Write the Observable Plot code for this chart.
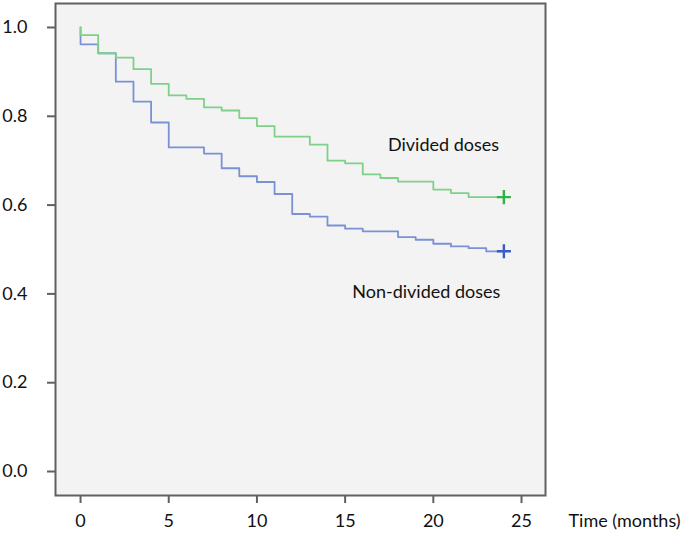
<!DOCTYPE html>
<html>
<head>
<meta charset="utf-8">
<script src="https://cdn.jsdelivr.net/npm/d3@7"></script>
<script src="https://cdn.jsdelivr.net/npm/@observablehq/plot@0.6"></script>
<style>
  html, body { margin: 0; padding: 0; background: #ffffff; }
  #chart svg { display: block; }
</style>
</head>
<body>
<div id="chart"></div>
<script>
// Kaplan–Meier step curves (time in months, survival proportion)
const dividedTime = [0, 0, 1, 2, 3, 4, 5, 6, 7, 8, 9, 10, 11, 13, 14, 15, 16, 17, 18, 20, 21, 22, 24];
const dividedSurv = [1.0, 0.983, 0.942, 0.932, 0.906, 0.873, 0.847, 0.839, 0.820, 0.813, 0.796, 0.778, 0.754, 0.736, 0.700, 0.694, 0.669, 0.661, 0.653, 0.635, 0.627, 0.618, 0.618];

const nonDividedTime = [0, 0, 1, 2, 3, 4, 5, 7, 8, 9, 10, 11, 12, 13, 14, 15, 16, 18, 19, 20, 21, 22, 23, 24];
const nonDividedSurv = [1.0, 0.962, 0.942, 0.878, 0.833, 0.786, 0.730, 0.716, 0.683, 0.665, 0.652, 0.625, 0.580, 0.574, 0.554, 0.547, 0.541, 0.528, 0.522, 0.513, 0.507, 0.503, 0.496, 0.496];

const seriesNames = ["Divided doses", "Non-divided doses"];
const labelTime = [20.58, 19.6];
const labelSurv = [0.734, 0.403];

const xTicks = [0, 5, 10, 15, 20, 25];
const yTicks = [0.0, 0.2, 0.4, 0.6, 0.8, 1.0];
const xAxisTitle = "Time (months)";

const divided = dividedTime.map((t, i) => ({t, s: dividedSurv[i]}));
const nonDivided = nonDividedTime.map((t, i) => ({t, s: nonDividedSurv[i]}));
const censor = [
  {t: dividedTime[dividedTime.length - 1], s: dividedSurv[dividedSurv.length - 1], c: "#2fb345"},
  {t: nonDividedTime[nonDividedTime.length - 1], s: nonDividedSurv[nonDividedSurv.length - 1], c: "#3b5cc0"}
];
const labels = seriesNames.map((name, i) => ({name, t: labelTime[i], s: labelSurv[i]}));

const axisColor = "#606060";
const fs = 18;

const chart = Plot.plot({
  width: 685,
  height: 534,
  marginLeft: 55,
  marginRight: 140,
  marginTop: 3,
  marginBottom: 39,
  x: {domain: [-1.42, 26.36]},
  y: {domain: [-0.054, 1.054]},
  style: {fontFamily: "Lato, 'Open Sans', sans-serif", fontSize: "18px", color: "#111", background: "#ffffff", overflow: "visible"},
  marks: [
    Plot.frame({fill: "#f3f3f3", stroke: null}),
    Plot.axisX({ticks: xTicks, tickSize: 8, tickPadding: 11, label: null, stroke: axisColor, strokeWidth: 2, fill: "#111", fontSize: fs}),
    Plot.axisY({ticks: yTicks, tickSize: 8, tickPadding: 20, tickFormat: d3.format(".1f"), label: null, stroke: axisColor, strokeWidth: 2, fill: "#111", fontSize: fs}),
    Plot.line(nonDivided, {x: "t", y: "s", curve: "step-after", stroke: "#7b91d6", strokeWidth: 1.8}),
    Plot.line(divided, {x: "t", y: "s", curve: "step-after", stroke: "#7fd18a", strokeWidth: 1.8}),
    Plot.dot(censor, {x: "t", y: "s", symbol: "plus", r: 4.6, stroke: "c", strokeWidth: 2.4}),
    Plot.text(labels, {x: "t", y: "s", text: "name", fontSize: fs, fill: "#111"}),
    Plot.text([xAxisTitle], {frameAnchor: "bottom-right", textAnchor: "start", lineAnchor: "top", dx: 23, dy: 19, fontSize: fs, fill: "#111"}),
    Plot.frame({stroke: axisColor, strokeWidth: 2})
  ]
});
document.getElementById("chart").appendChild(chart);
</script>
</body>
</html>
